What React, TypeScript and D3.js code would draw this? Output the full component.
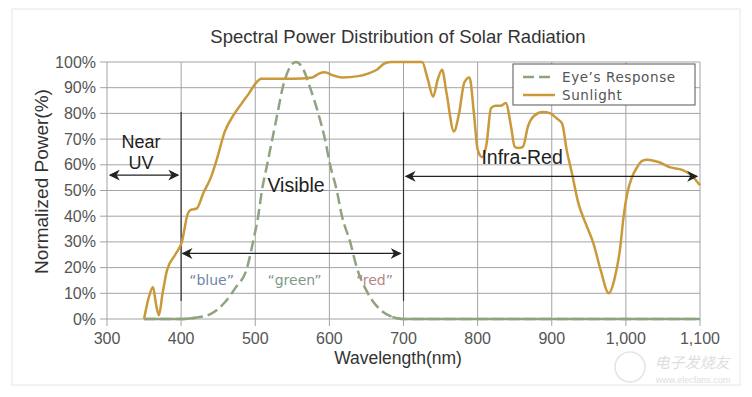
import React from "react";
import * as d3 from "d3";

// sunlight spectrum (nm, % of peak)
const sunWavelength = [350, 356, 362, 366, 370, 375, 381, 392, 401, 409, 413, 421, 430, 440, 448, 459, 470, 482, 492, 500, 508, 520, 550, 577, 586, 594, 603, 617, 639, 652, 664, 675, 684, 725, 733, 740, 746, 752, 758, 768, 775, 782, 789, 795, 800, 806, 812, 818, 824, 831, 838, 845, 850, 855, 861, 868, 876, 888, 898, 907, 914, 920, 927, 936, 946, 956, 966, 977, 985, 992, 997, 1002, 1008, 1015, 1022, 1029, 1045, 1060, 1076, 1088, 1100];
const sunPower = [0, 8, 12.5, 6, 1.5, 10, 19, 25, 30, 41, 42.5, 43, 49, 55, 62, 73, 79, 84, 88, 91.5, 93.5, 93.5, 93.5, 94, 95.5, 96, 95, 94, 94.5, 95.5, 97, 99.5, 100, 100, 93, 86.5, 93, 97, 88, 73, 80, 92, 94, 80, 66, 63, 68, 82, 83, 83, 84, 75, 67, 66.5, 67, 75, 79, 80.5, 80, 78, 76, 66, 57, 45, 37, 29.6, 19, 10, 16, 27, 40, 49, 55, 59, 61.5, 62, 61, 59, 58, 56, 52];

// eye's response
const eyeWavelength = [350, 400, 420, 440, 459, 473, 489, 497, 504, 509, 516, 523, 530, 537, 545, 555, 565, 574, 585, 594, 601, 610, 617, 628, 637, 652, 671, 685, 700, 1100];
const eyeResponse = [0, 0, 0.5, 2, 6.5, 12, 20, 30, 40, 50, 60, 70, 80, 90, 97, 100, 97, 90, 80, 70, 60, 50, 40, 30, 20, 10, 3, 0.8, 0, 0];

const xTicks = [300, 400, 500, 600, 700, 800, 900, 1000, 1100];
const yTicks = [0, 10, 20, 30, 40, 50, 60, 70, 80, 90, 100];
const boundaries = [400, 700];

const bands = [
  { from: 304, to: 396, level: 56 },
  { from: 402, to: 696, level: 25.5 },
  { from: 703, to: 1096, level: 55.5 },
];
const bandLabels = [
  { text: "Near", at: 346, level: 66.4, size: 18 },
  { text: "UV", at: 346, level: 58.4, size: 18 },
  { text: "Visible", at: 555, level: 49.5, size: 19.5 },
  { text: "Infra-Red", at: 860, level: 60.5, size: 19.5 },
];
const colorLabels = [
  { text: "\u201cblue\u201d", at: 441, color: "#6f84a6" },
  { text: "\u201cgreen\u201d", at: 553, color: "#7f9a88" },
  { text: "\u201cred\u201d", at: 661, color: "#b48686" },
];

const SUN = "#c9993a";
const EYE = "#8fa381";
const FONT = "'Liberation Sans', Arial, Helvetica, sans-serif";

export default function App() {
  const W = 752;
  const H = 397;
  const x = d3.scaleLinear().domain([300, 1100]).range([107, 700]);
  const y = d3.scaleLinear().domain([0, 100]).range([319, 62]);

  const sun = sunWavelength.map((w, i) => ({ w, v: sunPower[i] }));
  const eye = eyeWavelength.map((w, i) => ({ w, v: eyeResponse[i] }));

  const line = d3
    .line<{ w: number; v: number }>()
    .x((d) => x(d.w))
    .y((d) => y(d.v))
    .curve(d3.curveMonotoneX);
  // flat part of the eye curve is drawn solid
  const baseLine = d3
    .line<{ w: number; v: number }>()
    .defined((d) => d.v < 1)
    .x((d) => x(d.w))
    .y((d) => y(d.v))
    .curve(d3.curveMonotoneX);

  const fmt = d3.format(",");

  return (
    <svg width={W} height={H} style={{ position: "absolute", left: 0, top: 0, background: "#fff" }} fontFamily={FONT}>
      <defs>
        <marker id="arr" viewBox="0 0 10 10" refX="9" refY="5" markerWidth="11" markerHeight="11" markerUnits="userSpaceOnUse" orient="auto-start-reverse">
          <path d="M0,0 L10,5 L0,10 L3,5 Z" fill="#222" />
        </marker>
      </defs>
      <rect x={12} y={9} width={728} height={376} fill="none" stroke="#e6e6e6" />

      <text x={398} y={43} textAnchor="middle" fontSize={18.5} fill="#333">
        Spectral Power Distribution of Solar Radiation
      </text>

      {/* grid */}
      {yTicks.map((t) => (
        <line key={"h" + t} x1={100} x2={700} y1={y(t)} y2={y(t)} stroke="#a3a3a3" strokeWidth={1} />
      ))}
      {xTicks.map((t) => (
        <line key={"v" + t} x1={x(t)} x2={x(t)} y1={62} y2={326} stroke="#a3a3a3" strokeWidth={1} />
      ))}
      {boundaries.map((b) => (
        <line key={"b" + b} x1={x(b)} x2={x(b)} y1={y(80.5)} y2={y(7)} stroke="#333" strokeWidth={1.2} />
      ))}

      {/* tick labels */}
      {yTicks.map((t) => (
        <text key={"yl" + t} x={96} y={y(t) + 5.5} textAnchor="end" fontSize={16} fill="#555">
          {t + "%"}
        </text>
      ))}
      {xTicks.map((t) => (
        <text key={"xl" + t} x={x(t)} y={344} textAnchor="middle" fontSize={16} fill="#555">
          {fmt(t)}
        </text>
      ))}
      <text x={398} y={364} textAnchor="middle" fontSize={17.5} fill="#333">
        Wavelength(nm)
      </text>
      <text transform={`translate(48,${y(50) - 9}) rotate(-90)`} textAnchor="middle" fontSize={19} fill="#333">
        Normalized Power(%)
      </text>

      {/* eye response */}
      <path d={baseLine(eye) || ""} fill="none" stroke={EYE} strokeWidth={2.5} />
      <path d={line(eye) || ""} fill="none" stroke={EYE} strokeWidth={2.5} strokeDasharray="11,5" />

      {/* sunlight */}
      <path d={line(sun) || ""} fill="none" stroke={SUN} strokeWidth={2.5} />

      {/* band arrows */}
      {bands.map((b, i) => (
        <line key={"a" + i} x1={x(b.from)} x2={x(b.to)} y1={y(b.level)} y2={y(b.level)} stroke="#222" strokeWidth={1.2} markerStart="url(#arr)" markerEnd="url(#arr)" />
      ))}
      {bandLabels.map((l, i) => (
        <text key={"bl" + i} x={x(l.at)} y={y(l.level)} textAnchor="middle" fontSize={l.size} fill="#222">
          {l.text}
        </text>
      ))}
      {colorLabels.map((l, i) => (
        <text key={"cl" + i} x={x(l.at)} y={285} textAnchor="middle" fontSize={14} fill={l.color} fontFamily="'DejaVu Sans', sans-serif">
          {l.text}
        </text>
      ))}

      {/* legend */}
      <g fontFamily="'DejaVu Sans', sans-serif" fontSize={13.5} fill="#555">
        <rect x={513} y={64} width={182} height={41} fill="#fff" stroke="#555" strokeWidth={1} />
        <line x1={523} x2={555} y1={77} y2={77} stroke={EYE} strokeWidth={2.5} strokeDasharray="11,5" />
        <text x={562} y={81.5} letterSpacing={0.6}>Eye’s Response</text>
        <line x1={523} x2={555} y1={95} y2={95} stroke={SUN} strokeWidth={2.5} />
        <text x={562} y={99.5} letterSpacing={0.6}>Sunlight</text>
      </g>

      {/* watermark */}
      <g opacity={0.55}>
        <circle cx={630} cy={367} r={15} fill="none" stroke="#d0d0d0" strokeWidth={1.5} />
        <text x={692} y={368} textAnchor="middle" fontSize={15} fill="#c4c4c4" fontFamily="'Noto Sans CJK SC', sans-serif" fontStyle="italic">
          电子发烧友
        </text>
        <text x={693} y={383} textAnchor="middle" fontSize={9} fill="#c4c4c4">
          www.elecfans.com
        </text>
      </g>
    </svg>
  );
}
